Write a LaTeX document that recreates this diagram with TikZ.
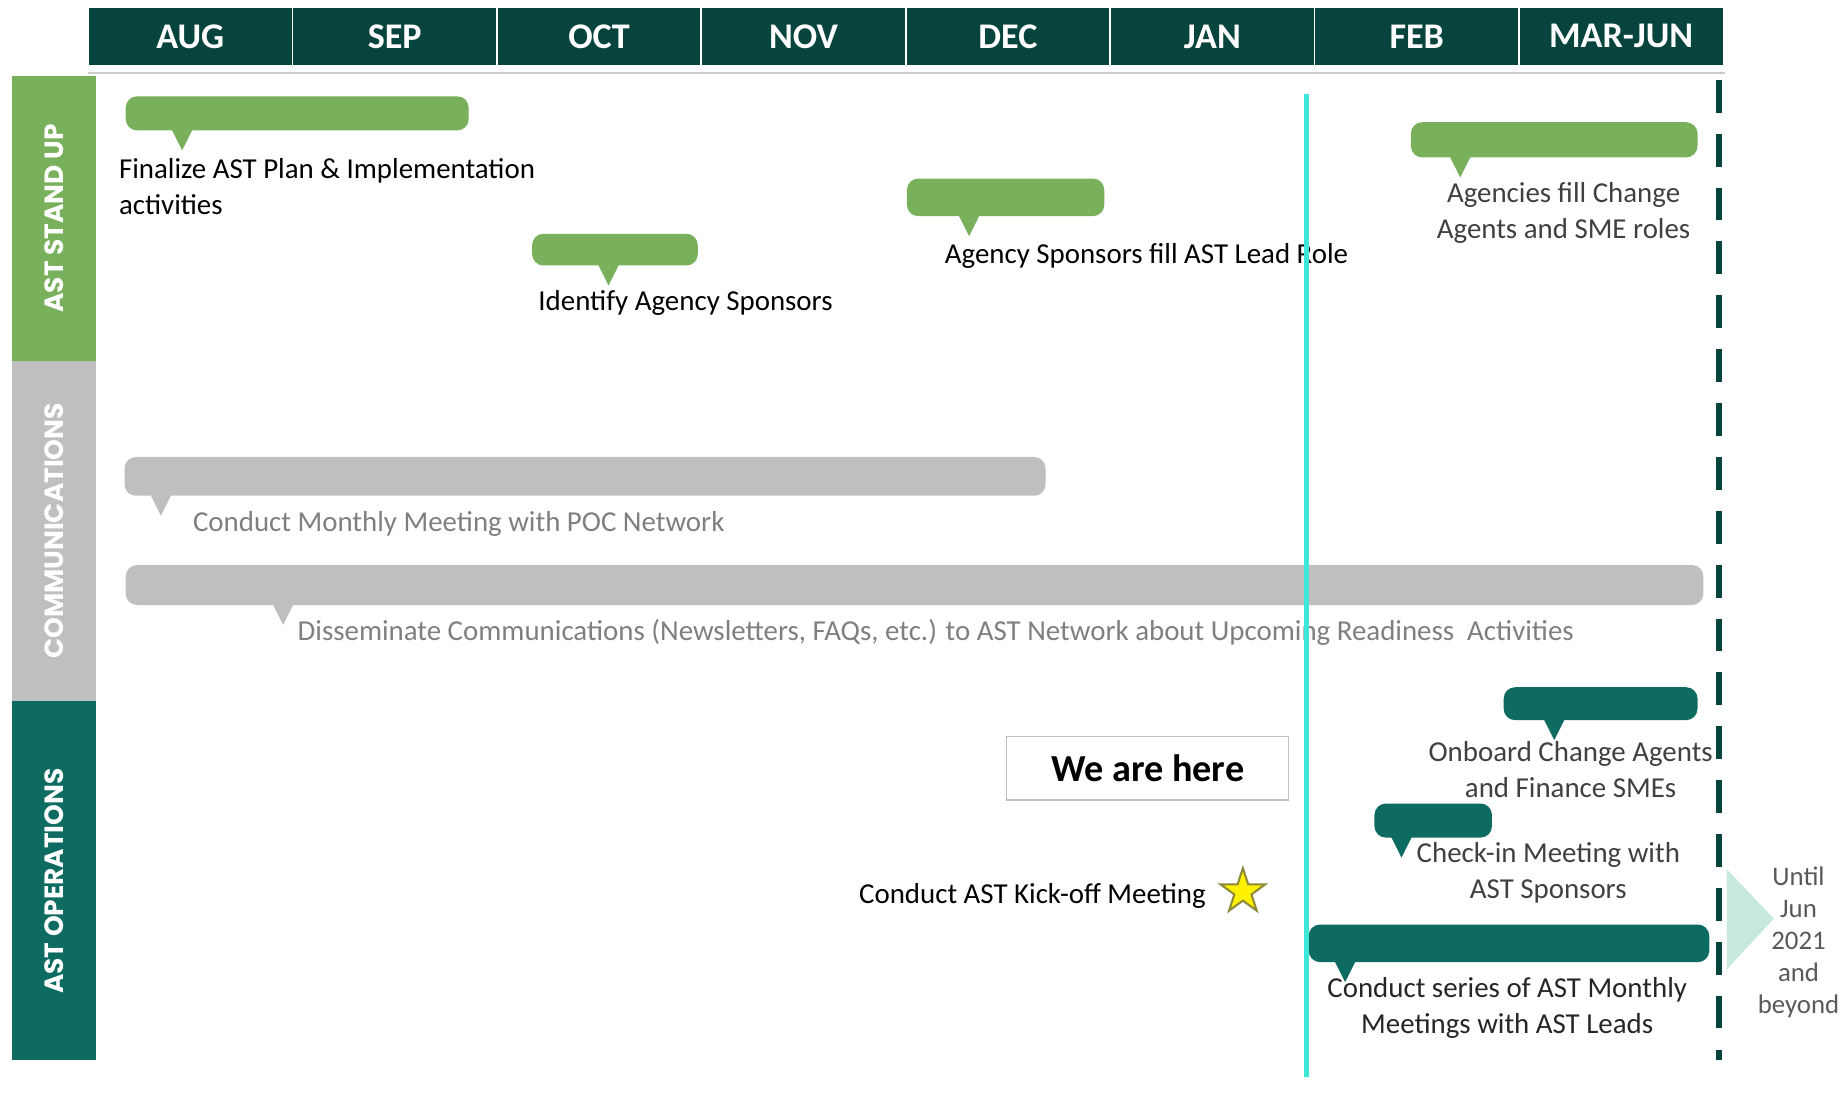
\documentclass[tikz,border=0pt]{standalone}
\usepackage{fontspec}
\setmainfont{Carlito}
\newfontfamily\sidefont{Poppins}
\usetikzlibrary{shapes.geometric}

\definecolor{hdr}{HTML}{07443D}
\definecolor{lgreen}{HTML}{78B05B}
\definecolor{lgray}{HTML}{BFBFBF}
\definecolor{opsteal}{HTML}{0E6B61}
\definecolor{nowcyan}{HTML}{3DE8D9}
\definecolor{mint}{HTML}{C6E9DC}
\definecolor{txtgray}{HTML}{7F7F7F}
\definecolor{txtdark}{HTML}{404040}

% bar with a small pointer under it: colour, x1, y1, x2, y2, pointer x
\newcommand{\callout}[6]{%
  \fill[#1,rounded corners=5.5pt] (#2,#3) rectangle (#4,#5);
  \fill[#1] (#6-9,#5-1) -- (#6+9,#5-1) -- (#6,#5+17) -- cycle;}

\begin{document}
\begin{tikzpicture}[x=0.02cm,y=-0.02cm,
    month/.style={draw=white,fill=hdr,line width=.8pt,minimum width=3.48cm,
      minimum height=1cm,inner sep=0pt,text=white,
      font=\bfseries\fontsize{17.5}{20}\selectfont},
    lane/.style={rotate=90,text=white,font=\sidefont\bfseries\fontsize{12.8}{15}\selectfont},
    note/.style={inner sep=0pt,font=\fontsize{14}{17.6}\selectfont}]
  \useasboundingbox (0,0) rectangle (1568,936);

  % months
  \foreach \m [count=\i] in {AUG,SEP,OCT,NOV,DEC,JAN,FEB,MAR-JUN}
    \node[month] (m\i) at ({75+174*(\i-0.5)},31) {\m};
  \draw[black!20,line width=.8pt] (75,62) -- (1468,62);

  % lanes
  \fill[lgreen] (10,65) rectangle (82,307);
  \fill[lgray] (10,307) rectangle (82,597);
  \fill[opsteal] (10,597) rectangle (82,902);
  \node[lane] (stand) at (46,186) {AST STAND UP};
  \node[lane] (comms) at (46,452) {COMMUNICATIONS};
  \node[lane] (ops) at (46,750) {AST OPERATIONS};

  % stand up
  \callout{lgreen}{107}{82}{399}{111}{155}
  \node[note,anchor=west,align=left] (finalize) at (101,159)
    {Finalize AST Plan \& Implementation\\activities};
  \callout{lgreen}{453}{199}{594}{226}{518}
  \node[note,anchor=west] (identify) at (458,258) {Identify Agency Sponsors};
  \callout{lgreen}{772}{152}{940}{184}{825}
  \node[note,anchor=west] (leadrole) at (804,218) {Agency Sponsors fill AST Lead Role};
  \callout{lgreen}{1201}{104}{1445}{134}{1243}
  \node[note,align=center,text=txtdark] (agencies) at (1331,181)
    {Agencies fill Change\\Agents and SME roles};

  % communications
  \callout{lgray}{106}{389}{890}{422}{137}
  \node[note,anchor=west,text=txtgray] (monthly) at (164,446)
    {Conduct Monthly Meeting with POC Network};
  \callout{lgray}{107}{481}{1450}{515}{241}
  \node[note,anchor=west,text=txtgray] (dissem) at (253,538)
    {Disseminate Communications (Newsletters, FAQs, etc.) to AST Network about Upcoming Readiness~~Activities};

  % operations
  \callout{opsteal}{1280}{585}{1445}{613}{1323}
  \node[note,align=center,text=txtdark] (onboard) at (1337,655)
    {Onboard Change Agents\\and Finance SMEs};
  \callout{opsteal}{1170}{684}{1270}{713}{1193}
  \node[note,align=center,text=txtdark] (checkin) at (1318,743)
    {Check-in Meeting with\\AST Sponsors};
  \callout{opsteal}{1114}{787}{1455}{819}{1145}
  \node[note,align=center,text=black!85] (series) at (1283,858)
    {Conduct series of AST Monthly\\Meetings with AST Leads};

  \node[draw=black!25,line width=.6pt,minimum width=4.8cm,minimum height=1.08cm,
    font=\bfseries\fontsize{18.5}{22}\selectfont] (here) at (977,654) {We are here};
  \node[note,anchor=west] (kickoff) at (731,763) {Conduct AST Kick-off Meeting};
  \node[star,star points=5,star point ratio=2.6,minimum size=0.8cm,inner sep=0pt,
    fill=yellow,draw=olive!60!gray,line width=1pt] (kickstar) at (1058,759) {};

  % today and end of plan
  \coordinate (nowtop) at (1112,80);
  \coordinate (nowbot) at (1112,917);
  \draw[nowcyan,line width=2.3pt] (nowtop) -- (nowbot);
  \coordinate (endtop) at (1463,68);
  \coordinate (endbot) at (1463,902);
  \draw[hdr,line width=2.8pt,dash pattern=on 15.9pt off 10.2pt] (endtop) -- (endbot);

  \fill[mint] (1470,740) -- (1510,782) -- (1470,825) -- cycle;
  \node[align=center,text=black!65,font=\fontsize{13}{15.5}\selectfont] (until)
    at (1531,802) {Until\\Jun\\2021\\and\\beyond};
\end{tikzpicture}
\end{document}
